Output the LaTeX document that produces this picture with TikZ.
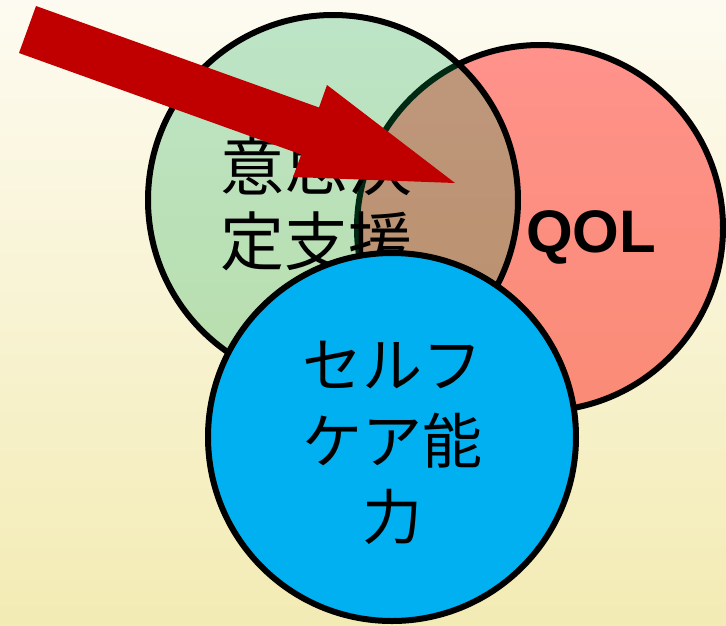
\documentclass[tikz,border=0pt]{standalone}
\usepackage{fontspec}
\newfontfamily\jpfont{Noto Sans CJK JP}
\newfontfamily\latfont{Liberation Sans}
\definecolor{bgtop}{RGB}{253,251,241}
\definecolor{bgbot}{RGB}{243,235,180}
\definecolor{grn}{RGB}{0,165,80}
\definecolor{redtop}{RGB}{255,146,139}
\definecolor{redbot}{RGB}{249,139,118}
\definecolor{blu}{RGB}{0,176,240}
\definecolor{arrowred}{RGB}{192,0,0}
\tikzset{
  ring/.style={line width=6pt, draw=black},
  jptext/.style={inner sep=0pt, align=center, font=\jpfont\fontsize{64}{75}\selectfont},
  jpsmall/.style={inner sep=0pt, align=center, font=\jpfont\fontsize{60}{76}\selectfont},
}
\begin{document}
\begin{tikzpicture}[x=1pt,y=-1pt]
\useasboundingbox (0,0) rectangle (726,625);
\shade[top color=bgtop, bottom color=bgbot] (0,0) rectangle (726,625);
% red circle (QOL)
\path[ring, top color=redtop, bottom color=redbot] (540,228) circle[radius=183];
% green circle (decision support), translucent
\fill[grn, fill opacity=0.25] (333,200) circle[radius=185];
\draw[ring] (333,200) circle[radius=185];
\node[jptext] (gtext) at (316,204) {意思決\\定支援};
% arrow
\fill[arrowred] (36,6) -- (319,107.5) -- (327,85) -- (455,183) -- (293,177) -- (301.3,154.5) -- (19,53) -- cycle;
% blue circle (self-care)
\path[ring, fill=blu] (392,437) circle[radius=184];
\node[jpsmall] (btext) at (392,443) {セルフ\\ケア能\\力};
\node[inner sep=0pt, font=\latfont\bfseries\fontsize{60}{62}\selectfont] (qol) at (591,237) {QOL};
\end{tikzpicture}
\end{document}
